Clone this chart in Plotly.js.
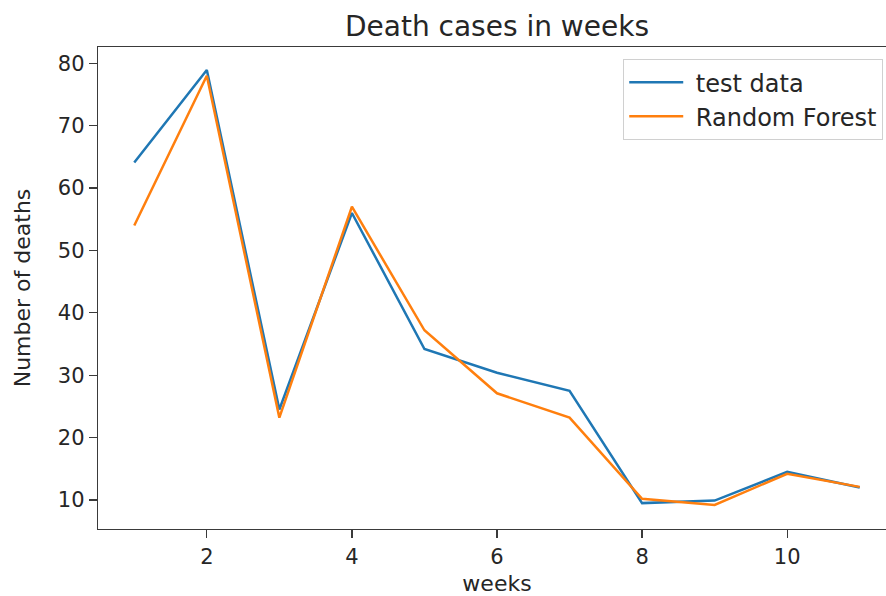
<!DOCTYPE html>
<html>
<head>
<meta charset="utf-8">
<script src="https://cdn.plot.ly/plotly-3.0.1.min.js"></script>
<style>
  html, body { margin: 0; padding: 0; background: #fff; overflow: hidden; }
  #chart { width: 900px; height: 596px; }
</style>
</head>
<body>
<div id="chart"></div>
<script>
// Weekly death counts: observed test data vs. Random Forest predictions
const weeks = [1, 2, 3, 4, 5, 6, 7, 8, 9, 10, 11];
const testData = [64.1, 78.9, 24.5, 56.0, 34.2, 30.4, 27.5, 9.5, 9.9, 14.5, 12.0];
const randomForest = [54.0, 78.0, 23.2, 57.0, 37.2, 27.1, 23.2, 10.2, 9.2, 14.2, 12.1];
const seriesNames = ['test data', 'Random Forest'];
const xTicks = [2, 4, 6, 8, 10];
const yTicks = [10, 20, 30, 40, 50, 60, 70, 80];

const fontFamily = '"DejaVu Sans", "Liberation Sans", sans-serif';
const textColor = '#262626';
const spineColor = '#3a3a3a';

// a non-breaking space widens the gap between legend sample and label
const legendLabel = s => '\u00a0' + s;

const traces = [
  {
    x: weeks, y: testData, name: legendLabel(seriesNames[0]),
    type: 'scatter', mode: 'lines',
    line: { color: '#1f77b4', width: 2.5 }
  },
  {
    x: weeks, y: randomForest, name: legendLabel(seriesNames[1]),
    type: 'scatter', mode: 'lines',
    line: { color: '#ff7f0e', width: 2.5 }
  }
];

const layout = {
  width: 900,
  height: 596,
  margin: { l: 98, r: 4, t: 47, b: 67 },
  paper_bgcolor: '#ffffff',
  plot_bgcolor: '#ffffff',
  font: { family: fontFamily, color: textColor, size: 21 },
  title: {
    text: 'Death cases in weeks',
    font: { family: fontFamily, size: 28, color: textColor },
    x: 0.5, xref: 'paper', xanchor: 'center',
    y: 0.956, yref: 'container', yanchor: 'middle'
  },
  xaxis: {
    range: [0.5, 11.5],
    tickvals: xTicks,
    ticktext: xTicks.map(String),
    ticks: 'outside', ticklen: 8, tickwidth: 1.3, tickcolor: spineColor,
    showgrid: false, zeroline: false,
    showline: true, linecolor: spineColor, linewidth: 1.3, mirror: true,
    tickfont: { size: 21, color: textColor },
    title: { text: 'weeks', font: { size: 22, color: textColor }, standoff: 10 },
    automargin: false
  },
  yaxis: {
    range: [5.35, 82.6],
    tickvals: yTicks,
    ticktext: yTicks.map(String),
    ticks: 'outside', ticklen: 8, tickwidth: 1.3, tickcolor: spineColor,
    showgrid: false, zeroline: false,
    showline: true, linecolor: spineColor, linewidth: 1.3, mirror: true,
    tickfont: { size: 21, color: textColor },
    title: { text: 'Number of deaths', font: { size: 22, color: textColor }, standoff: 21 },
    automargin: false
  },
  legend: {
    x: 0.984, xanchor: 'right',
    y: 0.975, yanchor: 'top',
    bgcolor: '#ffffff',
    bordercolor: '#d0d0d0', borderwidth: 1,
    font: { size: 24, color: textColor },
    itemwidth: 54
  },
  showlegend: true
};

Plotly.newPlot('chart', traces, layout, { displayModeBar: false, staticPlot: true });
</script>
</body>
</html>
